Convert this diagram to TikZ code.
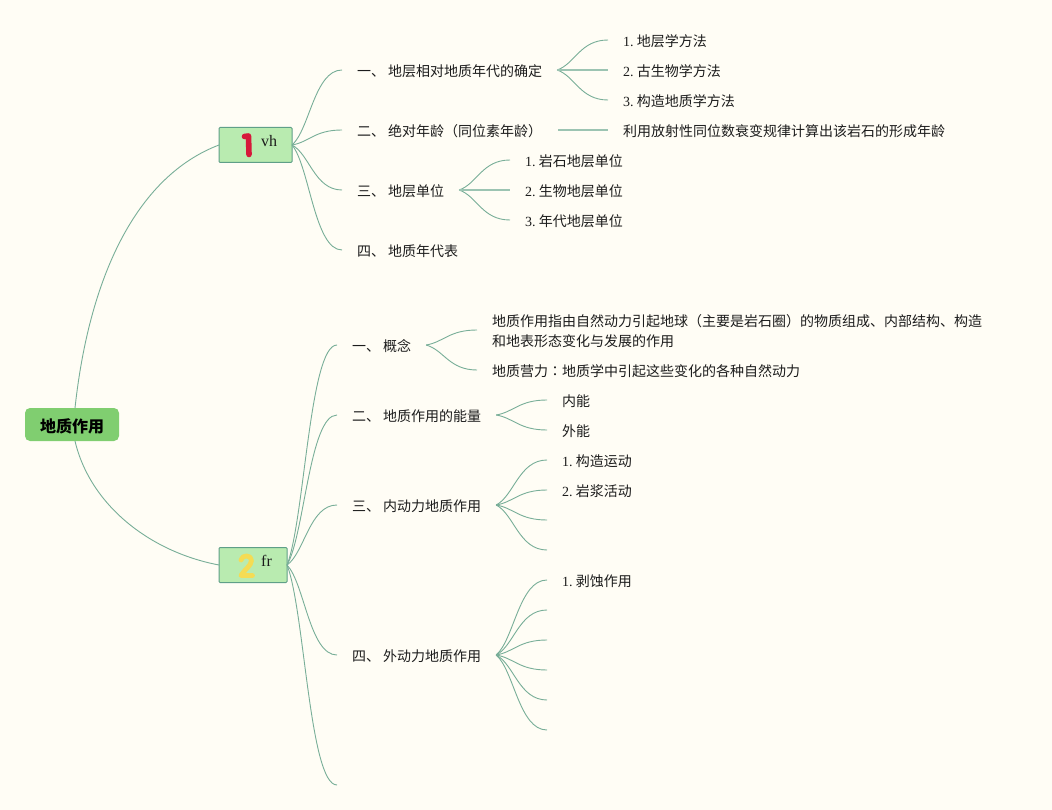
\documentclass[tikz,border=0pt]{standalone}
\usepackage{fontspec}
\setmainfont{Liberation Serif}
\newfontfamily\cjk{Noto Sans CJK SC}
\newfontfamily\cjktc{Noto Sans CJK TC}
\usetikzlibrary{calc}
\definecolor{paper}{HTML}{FFFDF5}
\definecolor{rootfill}{HTML}{80CE70}
\definecolor{boxfill}{HTML}{B9EBB0}
\definecolor{boxline}{HTML}{5F9F88}
\definecolor{wire}{HTML}{78AE98}
\definecolor{wirepale}{HTML}{9CC4B2}
\definecolor{ink}{HTML}{1C1C1C}
\newcommand\lat[1]{{\rmfamily #1.\kern3.4pt}}
\newcommand\lnk[2]{\draw[conn] (#1) .. controls ($(#1)!0.2!(#2) + 0.15*(#2 |- #1) - 0.15*(#1)$) and ($(#2)!0.55!(#1 |- #2)$) .. (#2);}
\tikzset{
  x=1pt,y=-1pt,
  conn/.style={draw=wire,line width=0.9pt},
  flat/.style={draw=wirepale,line width=1.7pt},
  item/.style={anchor=west,inner xsep=15pt,inner ysep=0pt,outer sep=0pt,text=ink,
    text height=14pt,text depth=0.4pt,font=\cjk\fontsize{14}{20}\selectfont},
  rootbox/.style={fill=rootfill,rounded corners=5pt,minimum width=94pt,minimum height=33pt,inner sep=0pt,outer sep=0pt,
    text=black,text height=15.5pt,text depth=0pt,font=\cjk\bfseries\fontsize{16}{20}\selectfont},
  topicbox/.style={draw=boxline,fill=boxfill,line width=1pt,rounded corners=1pt,minimum height=35pt,inner sep=0pt,outer sep=0pt},
  tag/.style={inner sep=0pt,text=ink,font=\rmfamily\fontsize{16}{18}\selectfont},
}
\begin{document}
\begin{tikzpicture}
\useasboundingbox (0,0) rectangle (1052,810);
\fill[paper] (0,0) rectangle (1052,810);
% root and topics
\node[rootbox] (root) at (72,424.5) {地质作用};
\node[topicbox,minimum width=73pt] (t1) at (255.5,145) {};
\node[topicbox,minimum width=68pt] (t2) at (253,565) {};
\node[tag] (vh) at (269,141) {vh};
\node[tag] (fr) at (266.5,561) {fr};
% markers
\draw[draw={rgb,255:red,214;green,24;blue,58},line width=5.6pt,line cap=round,line join=round] (244.5,136.5) -- (248.5,136) -- (249,154.5);
\draw[draw={rgb,255:red,244;green,220;blue,84},line width=4.8pt,line cap=round,line join=round]
  (241,560) .. controls (242,554.5) and (251.5,554.5) .. (251.5,560.5) .. controls (251.5,565.5) and (244,570) .. (241,575.5) -- (252.5,575.5);
% level 1, upper
\node[item] (a1) at (342,70) {一、 地层相对地质年代的确定};
\node[item] (a2) at (342,130) {\makebox[186pt][l]{二、 绝对年龄（同位素年龄）}};
\node[item] (a3) at (342,190) {三、 地层单位};
\node[item] (a4) at (342,250) {四、 地质年代表};
% level 2, upper
\node[item] (a11) at (608,40) {\lat{1}地层学方法};
\node[item] (a12) at (608,70) {\lat{2}古生物学方法};
\node[item] (a13) at (608,100) {\lat{3}构造地质学方法};
\node[item] (a21) at (608,130) {利用放射性同位数衰变规律计算出该岩石的形成年龄};
\node[item] (a31) at (510,160) {\lat{1}岩石地层单位};
\node[item] (a32) at (510,190) {\lat{2}生物地层单位};
\node[item] (a33) at (510,220) {\lat{3}年代地层单位};
% level 1, lower
\node[item] (b1) at (337,345) {一、 概念};
\node[item] (b2) at (337,415) {二、 地质作用的能量};
\node[item] (b3) at (337,505) {三、 内动力地质作用};
\node[item] (b4) at (337,655) {四、 外动力地质作用};
\coordinate (b5) at (337,785);
% level 2, lower
\node[item,align=left,text height=34pt] (b11) at (477,330) {地质作用指由自然动力引起地球（主要是岩石圈）的物质组成、内部结构、构造\\和地表形态变化与发展的作用};
\node[item] (b12) at (477,370) {地质营力{\cjktc ：}地质学中引起这些变化的各种自然动力};
\node[item] (b21) at (547,400) {内能};
\node[item] (b22) at (547,430) {外能};
\node[item] (b31) at (547,460) {\lat{1}构造运动};
\node[item] (b32) at (547,490) {\lat{2}岩浆活动};
\coordinate (b33) at (547,520);
\coordinate (b34) at (547,550);
\node[item] (b41) at (547,580) {\lat{1}剥蚀作用};
\coordinate (b42) at (547,610);
\coordinate (b43) at (547,640);
\coordinate (b44) at (547,670);
\coordinate (b45) at (547,700);
\coordinate (b46) at (547,730);
% root connectors
\coordinate (rt) at (75,408);
\coordinate (rb) at (75,441);
\draw[conn] (rt) .. controls (90,270) and (140,175) .. (t1.west);
\draw[conn] (rb) .. controls (90,505) and (150,552) .. (t2.west);
% fans
\lnk{t1.east}{a1.west}\lnk{t1.east}{a2.west}\lnk{t1.east}{a3.west}\lnk{t1.east}{a4.west}
\lnk{a1.east}{a11.west}\lnk{a1.east}{a13.west}
\draw[flat] (a1.east) -- (a12.west);
\draw[flat] (a2.east) -- (a21.west);
\lnk{a3.east}{a31.west}\lnk{a3.east}{a33.west}
\draw[flat] (a3.east) -- (a32.west);
\lnk{t2.east}{b1.west}\lnk{t2.east}{b2.west}\lnk{t2.east}{b3.west}\lnk{t2.east}{b4.west}\lnk{t2.east}{b5}
\lnk{b1.east}{b11.west}\lnk{b1.east}{b12.west}
\lnk{b2.east}{b21.west}\lnk{b2.east}{b22.west}
\lnk{b3.east}{b31.west}\lnk{b3.east}{b32.west}\lnk{b3.east}{b33}\lnk{b3.east}{b34}
\lnk{b4.east}{b41.west}\lnk{b4.east}{b42}\lnk{b4.east}{b43}\lnk{b4.east}{b44}\lnk{b4.east}{b45}\lnk{b4.east}{b46}
\end{tikzpicture}
\end{document}
